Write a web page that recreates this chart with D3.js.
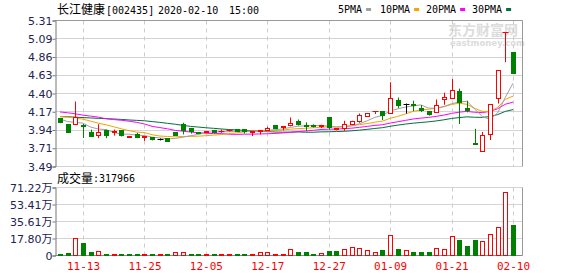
<!DOCTYPE html>
<html>
<head>
<meta charset="utf-8">
<script src="https://cdn.jsdelivr.net/npm/d3@7"></script>
<style>
body { margin: 0; background: #fff; }
svg { display: block; }
</style>
</head>
<body>
<svg id="chart" width="578" height="276"></svg>
<script>
"use strict";

// trading days shown (60)
var dates = ["11-08","11-11","11-12","11-13","11-14","11-15","11-18","11-19","11-20","11-21",
	"11-22","11-25","11-26","11-27","11-28","11-29","12-02","12-03","12-04","12-05",
	"12-06","12-09","12-10","12-11","12-12","12-13","12-16","12-17","12-18","12-19",
	"12-20","12-23","12-24","12-25","12-26","12-27","12-30","12-31","01-02","01-03",
	"01-06","01-07","01-08","01-09","01-10","01-13","01-14","01-15","01-16","01-17",
	"01-20","01-21","01-22","01-23","02-03","02-04","02-05","02-06","02-07","02-10"];

var opens = [4.085,4.01,4.017,4.00,3.918,3.873,3.943,3.91,3.943,3.855,
	3.885,3.848,3.848,3.83,3.84,3.918,4.01,3.965,3.91,3.915,
	3.94,3.925,3.935,3.95,3.95,3.915,3.93,3.935,4.00,3.975,
	4.00,4.05,4.00,3.995,3.985,4.10,3.955,3.967,4.017,4.05,
	4.11,4.17,4.17,4.15,4.31,4.26,4.26,4.21,4.175,4.16,
	4.33,4.335,4.43,4.215,3.775,3.68,3.885,4.335,5.155,4.915];
var highs = [4.09,4.015,4.30,4.02,3.95,4.017,3.95,3.95,3.943,3.87,
	3.91,3.862,3.855,3.84,3.84,3.92,4.035,3.965,3.92,3.93,
	3.945,3.95,3.955,3.955,3.955,3.935,3.945,3.985,4.00,3.99,
	4.10,4.075,4.04,4.015,4.01,4.10,3.97,4.06,4.06,4.15,
	4.15,4.18,4.17,4.54,4.35,4.275,4.31,4.255,4.175,4.325,
	4.41,4.58,4.46,4.31,3.96,3.92,4.26,4.69,5.16,4.915];
var lows = [4.03,3.915,4.01,3.845,3.868,3.843,3.843,3.875,3.864,3.85,
	3.843,3.81,3.815,3.815,3.80,3.87,3.89,3.90,3.90,3.91,
	3.915,3.91,3.925,3.925,3.90,3.87,3.89,3.93,3.96,3.94,
	3.99,4.00,3.93,3.975,3.97,3.95,3.94,3.935,4.01,4.035,
	4.11,4.145,4.07,4.15,4.22,4.15,4.18,4.17,4.125,4.16,
	4.26,4.335,4.02,4.165,3.77,3.68,3.82,4.275,4.79,4.65];
var closes = [4.035,3.917,4.10,3.985,3.868,3.915,3.88,3.925,3.877,3.868,
	3.85,3.86,3.827,3.83,3.806,3.877,3.935,3.925,3.905,3.925,
	3.92,3.93,3.945,3.93,3.925,3.93,3.94,3.965,3.967,3.985,
	4.03,4.015,3.99,3.985,3.995,3.97,3.96,4.01,4.05,4.125,
	4.15,4.18,4.125,4.335,4.255,4.26,4.25,4.19,4.14,4.25,
	4.35,4.435,4.29,4.19,3.77,3.88,4.26,4.69,5.16,4.65];

// volume, 万
var volumes = [1.0,2.4,17.8,12.9,3.5,4.2,1.4,1.4,1.4,0.6,
	1.4,0.6,1.4,0.6,1.4,3.1,2.8,0.7,0.7,0.5,
	0.5,1.4,0.5,0.5,1.4,1.4,2.8,3.1,1.4,1.4,
	6.3,2.8,3.5,0.7,1.8,3.9,3.9,6.6,8.7,7.6,
	5.6,3.5,4.9,21.3,6.6,5.6,3.5,3.5,3.5,7.3,
	6.6,20.2,15.4,9.1,16.0,15.0,22.3,29.6,66.0,31.7966];

var ma5 = [4.08,4.05,4.04,4.03,3.981,3.957,3.950,3.915,3.893,3.893,
	3.880,3.876,3.856,3.847,3.835,3.840,3.855,3.874,3.889,3.913,
	3.922,3.921,3.925,3.930,3.930,3.933,3.935,3.941,3.949,3.958,
	3.977,3.992,3.997,4.001,4.003,3.991,3.980,3.984,3.997,4.023,
	4.059,4.103,4.126,4.183,4.209,4.231,4.245,4.258,4.218,4.215,
	4.236,4.273,4.293,4.303,4.207,4.113,4.078,4.158,4.352,4.528];
var ma10 = [4.113,4.105,4.095,4.08,4.055,4.03,4.01,3.985,3.96,3.937,
	3.919,3.913,3.886,3.870,3.864,3.860,3.865,3.865,3.868,3.874,
	3.881,3.888,3.900,3.910,3.922,3.927,3.928,3.932,3.938,3.944,
	3.955,3.962,3.967,3.973,3.979,3.984,3.986,3.990,3.998,4.012,
	4.025,4.042,4.056,4.090,4.116,4.145,4.177,4.195,4.204,4.216,
	4.237,4.263,4.279,4.265,4.215,4.177,4.176,4.225,4.327,4.367];
var ma20 = [4.17,4.16,4.147,4.13,4.118,4.105,4.085,4.075,4.066,4.055,
	4.04,4.02,3.99,3.975,3.96,3.94,3.93,3.92,3.91,3.905,
	3.900,3.900,3.893,3.890,3.893,3.893,3.896,3.898,3.902,3.908,
	3.917,3.925,3.933,3.941,3.951,3.955,3.957,3.961,3.968,3.978,
	3.990,4.002,4.011,4.031,4.048,4.065,4.082,4.093,4.102,4.115,
	4.131,4.152,4.167,4.177,4.166,4.162,4.177,4.210,4.266,4.292];
var ma30 = [4.112,4.11,4.105,4.10,4.095,4.09,4.087,4.082,4.077,4.07,
	4.065,4.06,4.05,4.04,4.028,4.017,4.003,3.99,3.982,3.973,
	3.966,3.958,3.951,3.946,3.94,3.935,3.93,3.925,3.92,3.918,
	3.918,3.921,3.917,3.917,3.922,3.923,3.926,3.929,3.935,3.943,
	3.953,3.964,3.974,3.991,4.006,4.019,4.030,4.039,4.047,4.058,
	4.072,4.089,4.100,4.109,4.104,4.102,4.113,4.137,4.177,4.199];

var priceTicks = ["3.49","3.71","3.94","4.17","4.40","4.63","4.86","5.09","5.31"];
var volTicks = ["0","17.80万","35.61万","53.41万","71.22万"];
var dateTicks = ["11-13","11-25","12-05","12-17","12-27","01-09","01-21","02-10"];

var maNames = ["5PMA","10PMA","20PMA","30PMA"];
var maColors = ["#a0a0a0","#f5a400","#ff00ff","#00703c"];

var RED = "#ff0000", GREEN = "#008000";
var MONO = "'DejaVu Sans Mono', monospace";
var CJK = "'Noto Sans CJK SC', sans-serif";
var AXISFONT = "'DejaVu Sans', sans-serif";

var svg = d3.select("#chart");
var L = 55.5, R = 522.5;

var x = d3.scalePoint().domain(dates).range([60, 513]);
var yP = d3.scaleLinear().domain([3.49, 5.31]).range([166.5, 20.5]);
var yV = d3.scaleLinear().domain([0, 71.22]).range([255.5, 187.5]);

function px(d){ return Math.round(x(d)) + 0.5; }
function crisp(v){ return Math.round(v - 0.5) + 0.5; }

// ---------- header ----------
svg.append("text").attr("x", 57).attr("y", 14).style("font-family", CJK).style("font-size", "12px")
	.attr("fill", "#000").text("长江健康");
svg.append("text").attr("x", 106).attr("y", 14).style("font-family", MONO).style("font-size", "10px")
	.attr("fill", "#000").text("[002435]");
svg.append("text").attr("x", 158).attr("y", 14).style("font-family", MONO).style("font-size", "10px")
	.attr("fill", "#000").text("2020-02-10");
svg.append("text").attr("x", 229).attr("y", 14).style("font-family", MONO).style("font-size", "10px")
	.attr("fill", "#000").text("15:00");

var legX = [338, 380, 426, 472];
maNames.forEach(function(n, k){
	var t = svg.append("text").attr("x", legX[k]).attr("y", 13).style("font-family", MONO)
		.style("font-size", "10px").attr("fill", "#000").text(n);
	var w = t.node().getComputedTextLength();
	svg.append("rect").attr("x", legX[k] + w + 4).attr("y", 8).attr("width", 5).attr("height", 3)
		.attr("fill", maColors[k]);
});

// watermark
svg.append("text").attr("x", 448).attr("y", 35).style("font-family", CJK).style("font-size", "14px")
	.style("font-weight", "bold").attr("fill", "#dcdcdc").text("东方财富网");
svg.append("text").attr("x", 450).attr("y", 46).style("font-family", AXISFONT).style("font-size", "8.5px")
	.style("font-weight", "bold").attr("fill", "#dcdcdc").text("eastmoney.com");

// ---------- price panel ----------
var grid = svg.append("g");
var pTickVals = d3.range(priceTicks.length).map(function(k){ return 3.49 + k * (5.31 - 3.49) / (priceTicks.length - 1); });
pTickVals.forEach(function(v){
	var yy = crisp(yP(v));
	grid.append("line").attr("x1", L).attr("x2", R).attr("y1", yy).attr("y2", yy)
		.attr("stroke", "#d4d4d4");
});
var vTickVals = d3.range(volTicks.length).map(function(k){ return k * 71.22 / (volTicks.length - 1); });
vTickVals.forEach(function(v){
	var yy = crisp(yV(v));
	grid.append("line").attr("x1", L).attr("x2", R).attr("y1", yy).attr("y2", yy)
		.attr("stroke", "#d4d4d4");
});
dateTicks.forEach(function(d){
	var xx = px(d);
	grid.append("line").attr("x1", xx).attr("x2", xx).attr("y1", yP(5.31)).attr("y2", yP(3.49))
		.attr("stroke", "#cccccc").attr("stroke-dasharray", "4,4");
	grid.append("line").attr("x1", xx).attr("x2", xx).attr("y1", yV(71.22)).attr("y2", yV(0))
		.attr("stroke", "#cccccc").attr("stroke-dasharray", "4,4");
});

// frames
svg.append("line").attr("x1", L).attr("x2", R).attr("y1", 20.5).attr("y2", 20.5).attr("stroke", "#999");
svg.append("line").attr("x1", R).attr("x2", R).attr("y1", 20.5).attr("y2", 166.5).attr("stroke", "#999");
svg.append("line").attr("x1", R).attr("x2", R).attr("y1", 187.5).attr("y2", 255.5).attr("stroke", "#999");
svg.append("line").attr("x1", L).attr("x2", R).attr("y1", 255.5).attr("y2", 255.5).attr("stroke", "#888");

// axes
var axP = d3.axisLeft(yP).tickValues(pTickVals).tickSize(3)
	.tickFormat(function(d, k){ return priceTicks[k]; });
var gP = svg.append("g").attr("transform", "translate(" + L + ",0)").call(axP);
var axV = d3.axisLeft(yV).tickValues(vTickVals).tickSize(3)
	.tickFormat(function(d, k){ return volTicks[k]; });
var gV = svg.append("g").attr("transform", "translate(" + L + ",0)").call(axV);
[gP, gV].forEach(function(g){
	g.select(".domain").attr("stroke", "#777");
	g.selectAll(".tick line").attr("stroke", "#777");
	g.selectAll(".tick text").attr("fill", "#1e2350").attr("x", -3)
		.style("font-family", AXISFONT).style("font-size", "11px");
});
gV.selectAll(".tick text").style("font-family", AXISFONT + "," + CJK);

var axX = d3.axisBottom(x).tickValues(dateTicks).tickSize(0);
var gX = svg.append("g").attr("transform", "translate(0,255.5)").call(axX);
gX.select(".domain").remove();
gX.selectAll(".tick text").attr("fill", RED).attr("y", 7)
	.style("font-family", MONO).style("font-size", "11px");

// MA lines
var mas = [ma5, ma10, ma20, ma30];
var lineGen = d3.line().x(function(d, i){ return x(dates[i]); }).y(function(d){ return yP(d); });
mas.slice().reverse().forEach(function(arr, k){
	svg.append("path").attr("d", lineGen(arr)).attr("fill", "none")
		.attr("stroke", maColors[3 - k]).attr("stroke-width", 1);
});

// candles
var candles = svg.append("g");
dates.forEach(function(d, i){
	var cx = px(d);
	var o = opens[i], c = closes[i];
	var col = c > o ? RED : (c < o ? GREEN : "#000");
	candles.append("line").attr("x1", cx).attr("x2", cx)
		.attr("y1", yP(highs[i])).attr("y2", yP(lows[i])).attr("stroke", col);
	var top = crisp(yP(Math.max(o, c))), bot = crisp(yP(Math.min(o, c)));
	if (c === o || bot - top < 1) {
		candles.append("line").attr("x1", cx - 3).attr("x2", cx + 3).attr("y1", top).attr("y2", top)
			.attr("stroke", col);
	} else {
		candles.append("rect").attr("x", cx - 2).attr("y", top).attr("width", 4).attr("height", bot - top)
			.attr("fill", c > o ? "#fff" : GREEN).attr("stroke", col);
	}
});

// volume bars (colour against previous close)
var bars = svg.append("g");
dates.forEach(function(d, i){
	var cx = px(d);
	var up = i > 0 && closes[i] >= closes[i - 1];
	var col = up ? RED : GREEN;
	var top = crisp(yV(volumes[i]));
	var h = Math.max(255.5 - top, 1);
	bars.append("rect").attr("x", cx - 2).attr("y", 255.5 - h).attr("width", 4).attr("height", h)
		.attr("fill", up ? "#fff" : GREEN).attr("stroke", col);
});

// volume caption
svg.append("text").attr("x", 57).attr("y", 183).style("font-family", CJK).style("font-size", "12px")
	.attr("fill", "#000").text("成交量");
svg.append("text").attr("x", 93).attr("y", 182).style("font-family", MONO).style("font-size", "10px")
	.attr("fill", "#000").text(":" + Math.round(volumes[volumes.length - 1] * 10000));
</script>
</body>
</html>
